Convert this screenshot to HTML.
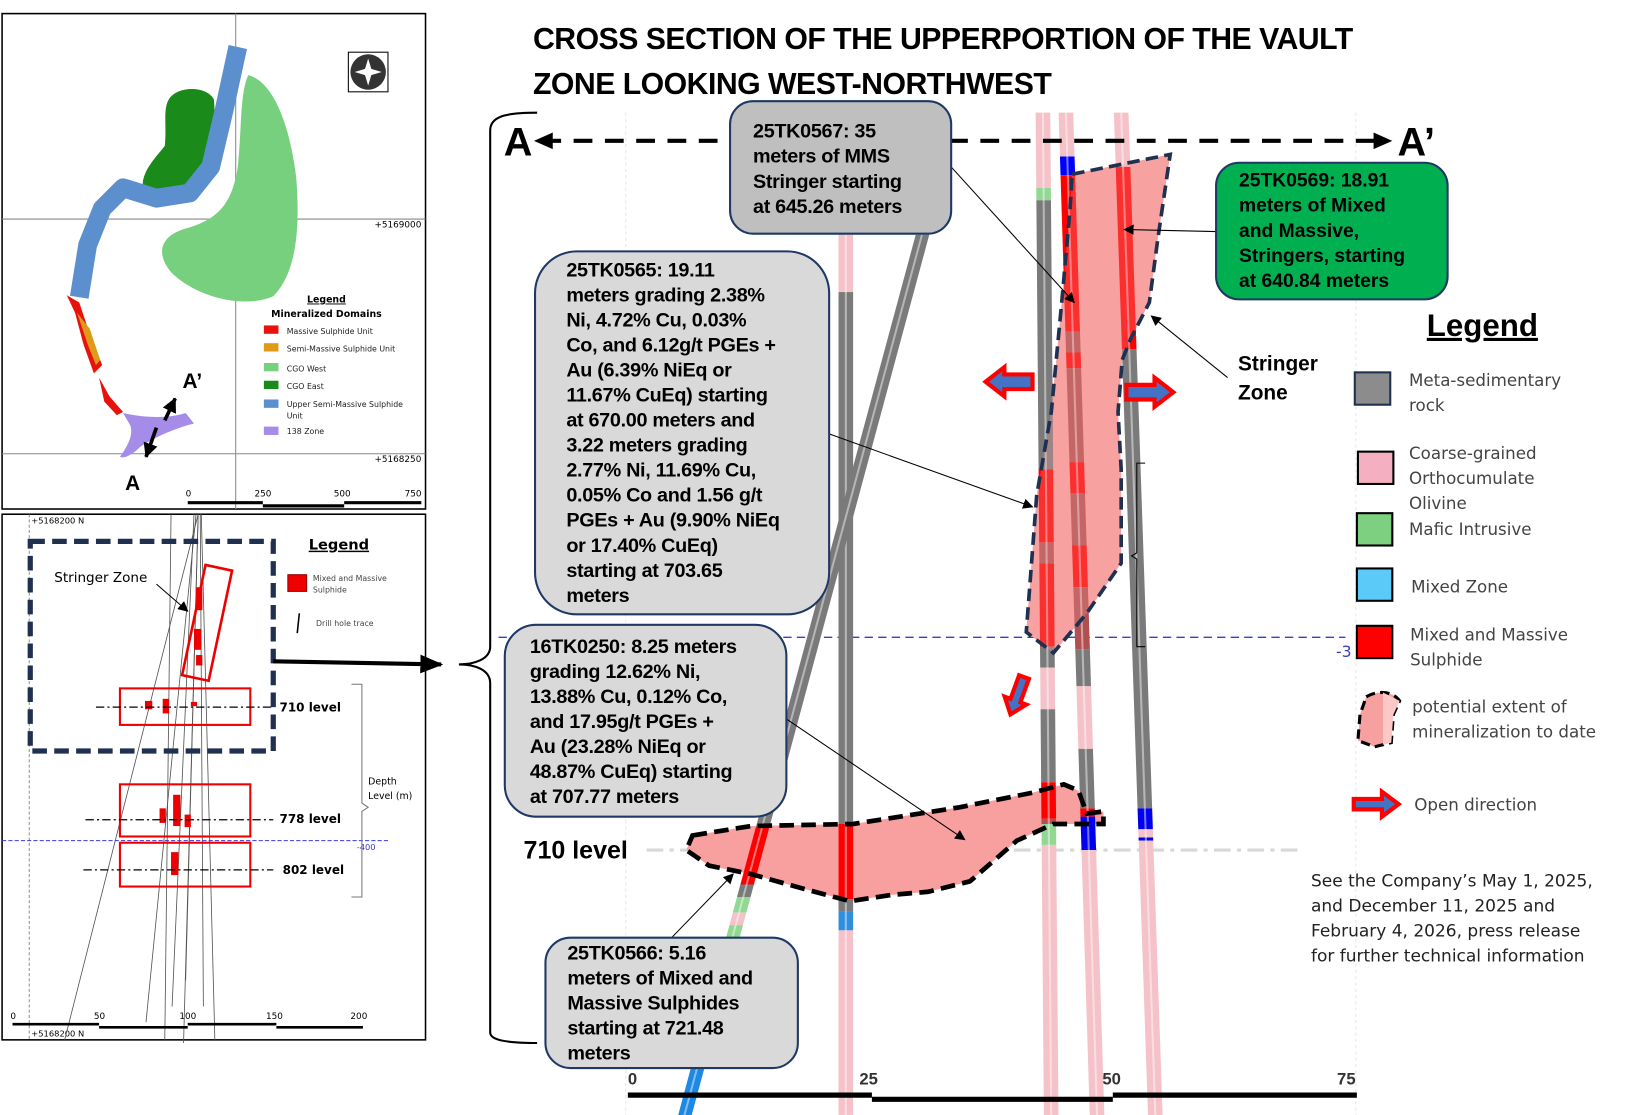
<!DOCTYPE html>
<html><head><meta charset="utf-8"><style>
html,body{margin:0;padding:0;background:#fff;}
svg{display:block;}
.cb{font-family:"Liberation Sans Narrow","Liberation Sans",sans-serif;font-weight:bold;font-size:19px;fill:#000;letter-spacing:-0.3px;}
.sm{font-family:"DejaVu Sans","Liberation Sans",sans-serif;}
.lg{font-family:"DejaVu Sans","Liberation Sans",sans-serif;font-size:16px;fill:#444;}
</style></head><body>
<svg width="1627" height="1115" viewBox="0 0 1560 1069" xmlns="http://www.w3.org/2000/svg">
<defs>
<marker id="ah" markerWidth="10" markerHeight="10" refX="9" refY="5" orient="auto" markerUnits="userSpaceOnUse"><path d="M0,0 L10,5 L0,10 z" fill="#000"/></marker>
<marker id="ahb" markerWidth="22" markerHeight="22" refX="20" refY="11" orient="auto" markerUnits="userSpaceOnUse"><path d="M0,2 L22,11 L0,20 z" fill="#000"/></marker>
<marker id="ahs" markerWidth="14" markerHeight="14" refX="13" refY="7" orient="auto" markerUnits="userSpaceOnUse"><path d="M0,0 L14,7 L0,14 z" fill="#000"/></marker>
</defs>

<!-- Title -->
<text x="511" y="47" font-family="Liberation Sans, sans-serif" font-weight="bold" font-size="29" letter-spacing="-0.5">CROSS SECTION OF THE UPPERPORTION OF THE VAULT</text>
<text x="511" y="90" font-family="Liberation Sans, sans-serif" font-weight="bold" font-size="29" letter-spacing="-0.5">ZONE LOOKING WEST-NORTHWEST</text>

<!-- ===== Top-left map panel ===== -->
<rect x="2" y="13" width="406" height="475" fill="#fff" stroke="#000" stroke-width="1.5"/>
<line x1="226" y1="13" x2="226" y2="488" stroke="#888" stroke-width="1"/>
<line x1="2" y1="210" x2="408" y2="210" stroke="#888" stroke-width="1"/>
<line x1="2" y1="435" x2="408" y2="435" stroke="#888" stroke-width="1"/>
<text x="404" y="218" text-anchor="end" class="sm" font-size="8.5">+5169000</text>
<text x="404" y="443" text-anchor="end" class="sm" font-size="8.5">+5168250</text>
<path d="M238,72 C262,78 278,120 284,170 C288,220 284,262 262,284 C235,296 190,286 165,262 C150,245 152,228 175,220 C205,212 222,200 228,160 C232,120 230,90 238,72 Z" fill="#77d07e"/>
<path d="M162,95 C170,82 198,82 205,95 C208,120 200,160 188,178 C175,190 150,192 137,180 C135,165 150,150 158,140 C160,120 156,105 162,95 Z" fill="#1a8a1a"/>
<path d="M228,45 L215,105 L202,160 L182,185 L150,190 L118,180 L98,200 L84,235 L76,285" fill="none" stroke="#5b8fcd" stroke-width="18" stroke-linejoin="round"/>
<path d="M64,283 L72,300 L80,330 L90,358 L98,350 L86,320 L76,290 Z" fill="#e8120c"/>
<path d="M74,300 L84,330 L92,350 L96,345 L86,315 Z" fill="#e09a1a"/>
<path d="M95,362 L105,380 L118,395 L112,398 L100,385 Z" fill="#e8120c"/>
<path d="M118,396 C135,400 160,402 178,396 L186,406 C170,410 150,418 135,428 C128,435 120,440 115,438 C122,428 128,418 125,408 Z" fill="#a58ce8"/>
<line x1="158" y1="403" x2="168" y2="382" stroke="#000" stroke-width="3.5" marker-end="url(#ahs)"/>
<line x1="150" y1="410" x2="140" y2="438" stroke="#000" stroke-width="3.5" marker-end="url(#ahs)"/>
<text x="175" y="372" font-family="Liberation Sans, sans-serif" font-weight="bold" font-size="20">A’</text>
<text x="120" y="470" font-family="Liberation Sans, sans-serif" font-weight="bold" font-size="20">A</text>
<rect x="334" y="50" width="38" height="38" fill="#fff" stroke="#000" stroke-width="1"/>
<circle cx="353" cy="69" r="17" fill="#333"/>
<path d="M353,56 L356,66 L366,69 L356,72 L353,82 L350,72 L340,69 L350,66 Z" fill="#fff"/>
<text x="313" y="290" text-anchor="middle" class="sm" font-size="9" font-weight="bold" text-decoration="underline">Legend</text>
<text x="313" y="304" text-anchor="middle" class="sm" font-size="9" font-weight="bold">Mineralized Domains</text>
<g class="sm" font-size="7.5" fill="#222">
<rect x="253" y="312" width="14" height="8" fill="#e8120c"/><text x="275" y="320">Massive Sulphide Unit</text>
<rect x="253" y="329" width="14" height="8" fill="#e09a1a"/><text x="275" y="337">Semi-Massive Sulphide Unit</text>
<rect x="253" y="348" width="14" height="8" fill="#77d07e"/><text x="275" y="356">CGO West</text>
<rect x="253" y="365" width="14" height="8" fill="#1a8a1a"/><text x="275" y="373">CGO East</text>
<rect x="253" y="383" width="14" height="8" fill="#5b8fcd"/><text x="275" y="390">Upper Semi-Massive Sulphide</text><text x="275" y="401">Unit</text>
<rect x="253" y="409" width="14" height="8" fill="#a58ce8"/><text x="275" y="416">138 Zone</text>
</g>
<g class="sm" font-size="8.5">
<text x="178" y="476">0</text><text x="244" y="476">250</text><text x="320" y="476">500</text><text x="388" y="476">750</text>
</g>
<path d="M180,482 H252 M330,482 H404" stroke="#000" stroke-width="3"/>
<path d="M252,485 H330" stroke="#000" stroke-width="3"/>

<!-- ===== Bottom-left section panel ===== -->
<rect x="2" y="493" width="406" height="504" fill="#fff" stroke="#000" stroke-width="1.5"/>
<line x1="28" y1="493" x2="28" y2="997" stroke="#777" stroke-width="0.8" stroke-dasharray="3,2"/>
<text x="30" y="502" class="sm" font-size="8">+5168200 N</text>
<text x="30" y="994" class="sm" font-size="8">+5168200 N</text>
<g stroke="#555" stroke-width="0.8" fill="none">
<line x1="190" y1="493" x2="62" y2="997"/>
<line x1="188" y1="493" x2="140" y2="980"/>
<line x1="186" y1="493" x2="165" y2="965"/>
<line x1="164" y1="493" x2="158" y2="997"/>
<line x1="190" y1="493" x2="176" y2="1000"/>
<line x1="192" y1="493" x2="195" y2="965"/>
<line x1="193" y1="493" x2="206" y2="997"/>
<line x1="190" y1="493" x2="178" y2="940"/>
</g>
<line x1="2" y1="806" x2="372" y2="806" stroke="#3b3bd0" stroke-width="1" stroke-dasharray="4,2"/>
<text x="342" y="815" class="sm" font-size="8" fill="#3b3bd0">-400</text>
<rect x="29" y="519" width="233" height="201" fill="none" stroke="#1f3050" stroke-width="5" stroke-dasharray="14,7"/>
<text x="52" y="558" class="sm" font-size="13" fill="#000">Stringer Zone</text>
<line x1="150" y1="560" x2="180" y2="586" stroke="#000" stroke-width="1" marker-end="url(#ah)"/>
<g transform="rotate(12 198 595)"><rect x="186" y="543" width="26" height="108" fill="none" stroke="#e00" stroke-width="2.5"/></g>
<rect x="188" y="563" width="6" height="22" fill="#e00"/><rect x="186" y="603" width="7" height="20" fill="#e00"/><rect x="188" y="628" width="6" height="10" fill="#e00"/>
<rect x="115" y="660" width="125" height="35" fill="none" stroke="#e00" stroke-width="2"/>
<rect x="115" y="752" width="125" height="50" fill="none" stroke="#e00" stroke-width="2"/>
<rect x="115" y="808" width="125" height="42" fill="none" stroke="#e00" stroke-width="2"/>
<rect x="139" y="672" width="7" height="8" fill="#e00"/><rect x="156" y="670" width="6" height="14" fill="#e00"/><rect x="183" y="673" width="6" height="4" fill="#e00"/>
<rect x="153" y="775" width="6" height="14" fill="#e00"/><rect x="166" y="762" width="7" height="30" fill="#e00"/><rect x="177" y="781" width="6" height="12" fill="#e00"/>
<rect x="164" y="817" width="7" height="22" fill="#e00"/>
<g stroke="#000" stroke-width="1.2" stroke-dasharray="8,3,2,3">
<line x1="92" y1="678" x2="262" y2="678"/><line x1="82" y1="786" x2="262" y2="786"/><line x1="80" y1="834" x2="262" y2="834"/>
</g>
<g class="sm" font-size="11.5" font-weight="bold">
<text x="268" y="682">710 level</text><text x="268" y="789">778 level</text><text x="271" y="838">802 level</text>
</g>
<path d="M337,656 H347 V770 L353,774 L347,778 V860 H337" fill="none" stroke="#777" stroke-width="1"/>
<text x="353" y="752" class="sm" font-size="9">Depth</text><text x="353" y="766" class="sm" font-size="9">Level (m)</text>
<text x="296" y="527" class="sm" font-size="14" font-weight="bold" text-decoration="underline">Legend</text>
<rect x="276" y="551" width="18" height="16" fill="#e00" stroke="#900" stroke-width="1"/>
<text x="300" y="557" class="sm" font-size="7.5" fill="#444">Mixed and Massive</text><text x="300" y="568" class="sm" font-size="7.5" fill="#444">Sulphide</text>
<line x1="287" y1="588" x2="285" y2="607" stroke="#000" stroke-width="1.5"/>
<text x="303" y="600" class="sm" font-size="7.5" fill="#444">Drill hole trace</text>
<g class="sm" font-size="8.5"><text x="10" y="977">0</text><text x="90" y="977">50</text><text x="172" y="977">100</text><text x="255" y="977">150</text><text x="336" y="977">200</text></g>
<path d="M12,982 H95 M180,982 H265" stroke="#000" stroke-width="2.5"/>
<path d="M95,985 H180 M265,985 H348" stroke="#000" stroke-width="2.5"/>
<line x1="262" y1="634" x2="423" y2="637" stroke="#000" stroke-width="4" marker-end="url(#ahb)"/>
<path d="M515,108 C490,108 470,110 470,125 V620 C470,632 455,637 440,637 C455,637 470,642 470,655 V990 C470,998 490,1000 515,1000" fill="none" stroke="#000" stroke-width="2"/>

<!-- ===== main section ===== -->
<line x1="600" y1="108" x2="600" y2="1069" stroke="#e6e6e6" stroke-width="1" stroke-dasharray="3,3"/>
<line x1="1300" y1="108" x2="1300" y2="1069" stroke="#e6e6e6" stroke-width="1" stroke-dasharray="3,3"/>
<line x1="478" y1="611" x2="1290" y2="611" stroke="#3b3bd0" stroke-width="1.3" stroke-dasharray="8,5"/>
<text x="1281" y="630" class="sm" font-size="15" fill="#3b3bd0">-3</text>
<line x1="620" y1="815" x2="1245" y2="815" stroke="#d8d8d8" stroke-width="3" stroke-dasharray="16,6,4,6"/>

<!-- polygon fills (under holes) -->
<path id="pS" d="M1028,167 L1122,148 L1110,230 L1102,290 L1084,325 L1076,345 L1072,395 L1075,450 L1075,540 L1042,588 L1010,626 L984,606 L994,475 L1008,395 L1018,290 L1026,200 Z" fill="#f8a4a4"/>
<path d="M664,801 L720,792 L818,790 L920,774 L990,760 L1020,752 L1034,758 L1042,780 L1058,778 L1058,790 L1040,790 L1010,790 L975,806 L930,845 L890,855 L855,858 L815,864 L770,852 L720,838 L680,830 L658,815 Z" fill="#f8a0a0"/>

<!-- hole H1 vertical -->
<g transform="translate(804,0)">
<rect x="0" y="225" width="14" height="55" fill="#f4c2c8"/>
<rect x="0" y="280" width="14" height="510" fill="#7a7a7a"/>
<rect x="0" y="790" width="14" height="72" fill="#f00"/>
<rect x="0" y="862" width="14" height="12" fill="#7a7a7a"/>
<rect x="0" y="874" width="14" height="18" fill="#2e8fe0"/>
<rect x="0" y="892" width="14" height="177" fill="#f4c2c8"/>
<rect x="6" y="225" width="2" height="844" fill="#fff" opacity="0.45"/>
</g>
<!-- H2 inclined -->
<g transform="translate(884,225) skewX(-15.1)">
<rect x="-6" y="0" width="13" height="568" fill="#7a7a7a"/>
<rect x="-6" y="568" width="13" height="55" fill="#f00"/>
<rect x="-6" y="623" width="13" height="12" fill="#7a7a7a"/>
<rect x="-6" y="635" width="13" height="15" fill="#92d892"/>
<rect x="-6" y="650" width="13" height="12" fill="#f4c2c8"/>
<rect x="-6" y="662" width="13" height="40" fill="#92d892"/>
<rect x="-6" y="702" width="13" height="70" fill="#f4c2c8"/>
<rect x="-6" y="772" width="13" height="80" fill="#1e88e5"/>
<rect x="-1" y="0" width="2" height="850" fill="#fff" opacity="0.45"/>
</g>
<!-- H3 -->
<g transform="translate(1000,108) skewX(0.47)">
<rect x="-7" y="0" width="14" height="72" fill="#f4c2c8"/>
<rect x="-7" y="72" width="14" height="12" fill="#92d892"/>
<rect x="-7" y="84" width="14" height="258" fill="#7a7a7a"/>
<rect x="-7" y="342" width="14" height="70" fill="#f00"/>
<rect x="-7" y="412" width="14" height="20" fill="#b05050"/>
<rect x="-7" y="432" width="14" height="80" fill="#f00"/>
<rect x="-7" y="512" width="14" height="20" fill="#7a7a7a"/>
<rect x="-7" y="532" width="14" height="40" fill="#f4c2c8"/>
<rect x="-7" y="572" width="14" height="70" fill="#7a7a7a"/>
<rect x="-7" y="642" width="14" height="35" fill="#f00"/>
<rect x="-7" y="677" width="14" height="5" fill="#b05050"/>
<rect x="-7" y="682" width="14" height="20" fill="#92d892"/>
<rect x="-7" y="702" width="14" height="265" fill="#f4c2c8"/>
<rect x="-1" y="0" width="2" height="967" fill="#fff" opacity="0.45"/>
</g>
<!-- H4 -->
<g transform="translate(1022,108) skewX(1.78)">
<rect x="-7" y="0" width="14" height="42" fill="#f4c2c8"/>
<rect x="-7" y="42" width="14" height="18" fill="#0000ff"/>
<rect x="-7" y="60" width="14" height="150" fill="#f00"/>
<rect x="-7" y="210" width="14" height="20" fill="#b05050"/>
<rect x="-7" y="230" width="14" height="15" fill="#f00"/>
<rect x="-7" y="245" width="14" height="90" fill="#b05050"/>
<rect x="-7" y="335" width="14" height="30" fill="#f00"/>
<rect x="-7" y="365" width="14" height="50" fill="#b05050"/>
<rect x="-7" y="415" width="14" height="40" fill="#f00"/>
<rect x="-7" y="455" width="14" height="60" fill="#b05050"/>
<rect x="-7" y="515" width="14" height="35" fill="#7a7a7a"/>
<rect x="-7" y="550" width="14" height="60" fill="#f4c2c8"/>
<rect x="-7" y="610" width="14" height="57" fill="#7a7a7a"/>
<rect x="-7" y="667" width="14" height="8" fill="#f00"/>
<rect x="-7" y="675" width="14" height="32" fill="#0000ee"/>
<rect x="-7" y="707" width="14" height="260" fill="#f4c2c8"/>
<rect x="-1" y="0" width="2" height="967" fill="#fff" opacity="0.45"/>
</g>
<!-- H5 -->
<g transform="translate(1075,108) skewX(1.95)">
<rect x="-7" y="0" width="14" height="52" fill="#f4c2c8"/>
<rect x="-7" y="52" width="14" height="175" fill="#f00"/>
<rect x="-7" y="227" width="14" height="440" fill="#7a7a7a"/>
<rect x="-7" y="667" width="14" height="20" fill="#0000ee"/>
<rect x="-7" y="687" width="14" height="8" fill="#f4c2c8"/>
<rect x="-7" y="695" width="14" height="3" fill="#0000ee"/>
<rect x="-7" y="698" width="14" height="269" fill="#f4c2c8"/>
<rect x="-1" y="0" width="2" height="967" fill="#fff" opacity="0.45"/>
</g>
<path d="M1098,444 H1090 V530 L1085,533 L1090,536 V620 H1098" fill="none" stroke="#000" stroke-width="1"/>

<!-- stringer polygon tint + outline -->
<path d="M1028,167 L1122,148 L1110,230 L1102,290 L1084,325 L1076,345 L1072,395 L1075,450 L1075,540 L1042,588 L1010,626 L984,606 L994,475 L1008,395 L1018,290 L1026,200 Z" fill="#f59a9a" fill-opacity="0.3" stroke="#1f3050" stroke-width="3.5" stroke-dasharray="12,6"/>
<path d="M664,801 L720,792 L818,790 L920,774 L990,760 L1020,752 L1034,758 L1042,780 L1058,778 L1058,790 L1040,790 L1010,790 L975,806 L930,845 L890,855 L855,858 L815,864 L770,852 L720,838 L680,830 L658,815 Z" fill="none" stroke="#000" stroke-width="4.5" stroke-dasharray="14,7"/>
<text x="502" y="823" font-family="Liberation Sans Narrow, Liberation Sans, sans-serif" font-weight="bold" font-size="24">710 level</text>

<!-- open direction arrows -->
<path d="M990,359 H963 V352 L945,366 L963,380 V373 H990 Z" fill="#4472c4" stroke="#f00" stroke-width="4"/>
<path d="M1080,369 H1107 V362 L1125,376 L1107,390 V383 H1080 Z" fill="#4472c4" stroke="#f00" stroke-width="4"/>
<g transform="translate(975,668) rotate(110)"><path d="M-20,-5 H4 V-11 L18,0 L4,11 V5 H-20 Z" fill="#4472c4" stroke="#f00" stroke-width="4"/></g>

<!-- A–A' line -->
<line x1="520" y1="135" x2="1330" y2="135" stroke="#000" stroke-width="4" stroke-dasharray="18,12"/>
<path d="M512,135 L530,127 L530,143 Z" fill="#000"/><path d="M1335,135 L1317,127 L1317,143 Z" fill="#000"/>
<text x="483" y="149" font-family="Liberation Sans, sans-serif" font-weight="bold" font-size="38">A</text>
<text x="1340" y="149" font-family="Liberation Sans, sans-serif" font-weight="bold" font-size="38">A’</text>

<!-- leaders -->
<g stroke="#000" stroke-width="1" fill="none">
<line x1="912" y1="160" x2="1030" y2="290" marker-end="url(#ah)"/>
<line x1="795" y1="416" x2="990" y2="486" marker-end="url(#ah)"/>
<line x1="752" y1="688" x2="925" y2="805" marker-end="url(#ah)"/>
<line x1="643" y1="900" x2="703" y2="838" marker-end="url(#ah)"/>
<line x1="1166" y1="222" x2="1078" y2="220" marker-end="url(#ah)"/>
<line x1="1177" y1="362" x2="1104" y2="303" marker-end="url(#ah)"/>
</g>

<!-- callouts -->
<rect x="700" y="97" width="212" height="127" rx="22" fill="#bfbfbf" stroke="#1f3864" stroke-width="2"/>
<g class="cb"><text x="722" y="132">25TK0567: 35</text><text x="722" y="156">meters of MMS</text><text x="722" y="180">Stringer starting</text><text x="722" y="204">at 645.26 meters</text></g>

<rect x="513" y="241" width="282" height="348" rx="40" fill="#d9d9d9" stroke="#1f3864" stroke-width="2"/>
<g class="cb">
<text x="543" y="265">25TK0565: 19.11</text><text x="543" y="289">meters grading 2.38%</text><text x="543" y="313">Ni, 4.72% Cu, 0.03%</text><text x="543" y="337">Co, and 6.12g/t PGEs +</text><text x="543" y="361">Au (6.39% NiEq  or</text><text x="543" y="385">11.67% CuEq) starting</text><text x="543" y="409">at 670.00 meters  and</text><text x="543" y="433">3.22 meters grading</text><text x="543" y="457">2.77% Ni,  11.69% Cu,</text><text x="543" y="481">0.05% Co and 1.56 g/t</text><text x="543" y="505">PGEs + Au (9.90% NiEq</text><text x="543" y="529">or 17.40% CuEq)</text><text x="543" y="553">starting at 703.65</text><text x="543" y="577">meters</text>
</g>

<rect x="484" y="599" width="270" height="184" rx="30" fill="#d9d9d9" stroke="#1f3864" stroke-width="2"/>
<g class="cb"><text x="508" y="626">16TK0250: 8.25 meters</text><text x="508" y="650">grading 12.62% Ni,</text><text x="508" y="674">13.88% Cu, 0.12% Co,</text><text x="508" y="698">and 17.95g/t PGEs +</text><text x="508" y="722">Au (23.28% NiEq  or</text><text x="508" y="746">48.87% CuEq) starting</text><text x="508" y="770">at 707.77 meters</text></g>

<rect x="523" y="899" width="242" height="125" rx="24" fill="#d9d9d9" stroke="#1f3864" stroke-width="2"/>
<g class="cb"><text x="544" y="920">25TK0566: 5.16</text><text x="544" y="944">meters of Mixed and</text><text x="544" y="968">Massive Sulphides</text><text x="544" y="992">starting at 721.48</text><text x="544" y="1016">meters</text></g>

<rect x="1166" y="156" width="222" height="131" rx="22" fill="#00b050" stroke="#1f3864" stroke-width="2"/>
<g font-family="Liberation Sans, sans-serif" font-weight="bold" font-size="18.5"><text x="1188" y="179">25TK0569: 18.91</text><text x="1188" y="203">meters of  Mixed</text><text x="1188" y="227">and Massive,</text><text x="1188" y="251">Stringers, starting</text><text x="1188" y="275">at 640.84 meters</text></g>

<text x="1187" y="355" font-family="Liberation Sans, sans-serif" font-weight="bold" font-size="20">Stringer</text>
<text x="1187" y="383" font-family="Liberation Sans, sans-serif" font-weight="bold" font-size="20">Zone</text>

<!-- legend -->
<text x="1368" y="322" font-family="Liberation Sans, sans-serif" font-weight="bold" font-size="30" text-decoration="underline">Legend</text>
<rect x="1299" y="357" width="34" height="31" fill="#8c8c8c" stroke="#1f3050" stroke-width="2"/>
<rect x="1302" y="433" width="34" height="31" fill="#f4b0c0" stroke="#000" stroke-width="2"/>
<rect x="1301" y="492" width="34" height="31" fill="#7dd07f" stroke="#000" stroke-width="2"/>
<rect x="1301" y="545" width="34" height="31" fill="#5bcaf8" stroke="#000" stroke-width="2"/>
<rect x="1301" y="600" width="34" height="31" fill="#f00" stroke="#000" stroke-width="2"/>
<path d="M1310,668 C1320,662 1335,662 1342,672 L1336,685 L1334,712 L1318,716 L1302,710 L1304,685 Z" fill="#f7a0a0" stroke="#000" stroke-width="3" stroke-dasharray="9,5"/>
<path d="M1326,664 L1342,672 L1336,685 L1334,712 L1326,714 Z" fill="#fbc8c8"/>
<g class="lg">
<text x="1351" y="370">Meta-sedimentary</text><text x="1351" y="394">rock</text>
<text x="1351" y="440">Coarse-grained</text><text x="1351" y="464">Orthocumulate</text><text x="1351" y="488">Olivine</text>
<text x="1351" y="513">Mafic Intrusive</text>
<text x="1353" y="568">Mixed Zone</text>
<text x="1352" y="614">Mixed and Massive</text><text x="1352" y="638">Sulphide</text>
<text x="1354" y="683">potential extent of</text><text x="1354" y="707">mineralization to date</text>
<text x="1356" y="777">Open direction</text>
</g>
<path d="M1298,766 H1325 V759 L1341,771 L1325,783 V776 H1298 Z" fill="#4472c4" stroke="#f00" stroke-width="4"/>

<g font-family="DejaVu Sans, Liberation Sans, sans-serif" font-size="16.3" fill="#222">
<text x="1257" y="850">See the Company’s May 1, 2025,</text>
<text x="1257" y="874">and December 11, 2025 and</text>
<text x="1257" y="898">February 4, 2026, press release</text>
<text x="1257" y="922">for further technical information</text>
</g>

<!-- bottom scale -->
<g font-family="Liberation Sans, sans-serif" font-weight="bold" font-size="16" fill="#333">
<text x="602" y="1040">0</text><text x="824" y="1040">25</text><text x="1057" y="1040">50</text><text x="1282" y="1040">75</text>
</g>
<path d="M602,1050 H836 M1067,1050 H1301" stroke="#000" stroke-width="5"/>
<path d="M836,1054 H1067" stroke="#000" stroke-width="5"/>
</svg>
</body></html>
